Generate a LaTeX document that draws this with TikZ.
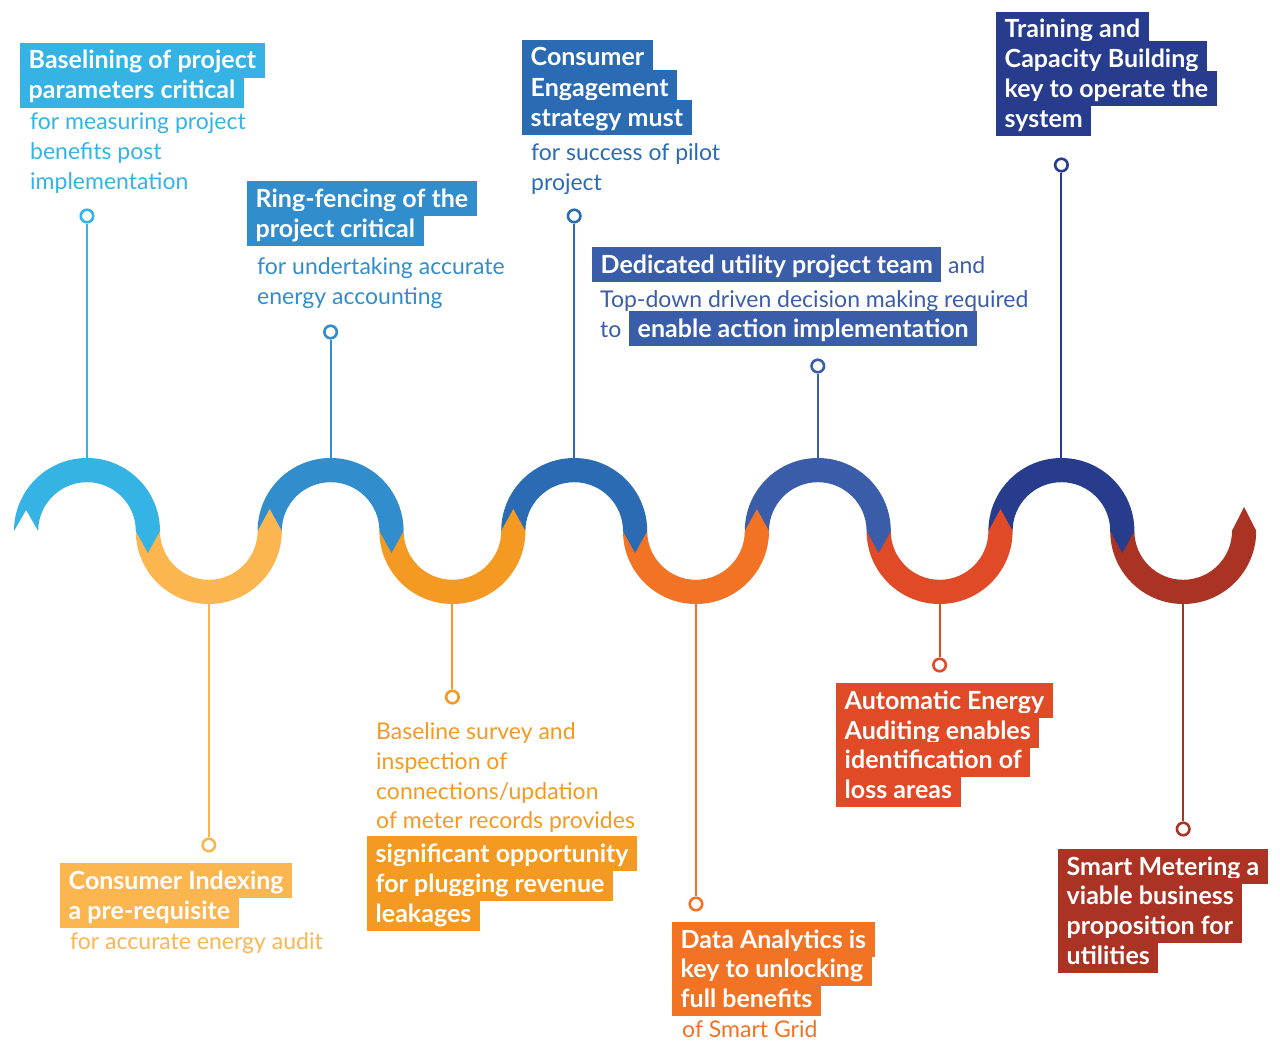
\documentclass[tikz,border=0pt]{standalone}
\usepackage{fontspec}
\setmainfont{Lato}

\definecolor{cA}{HTML}{35B3E4}
\definecolor{cB}{HTML}{318DCB}
\definecolor{cC}{HTML}{2A6BB4}
\definecolor{cD}{HTML}{3A5DAA}
\definecolor{cE}{HTML}{273C8C}
\definecolor{cF}{HTML}{FBB650}
\definecolor{cG}{HTML}{F49A22}
\definecolor{cH}{HTML}{F37325}
\definecolor{cI}{HTML}{E04A26}
\definecolor{cJ}{HTML}{AA3324}

% band segments of the wave: outer radius 73, inner radius 48.8, axis at y=-531
\newcommand\waveup[2]{%
  \fill[#2] (#1-73,-531) arc[start angle=180,end angle=0,radius=73]
    -- (#1+60.9,-553) -- (#1+48.8,-531)
    arc[start angle=0,end angle=180,radius=48.8] -- cycle;}
\newcommand\wavedown[2]{%
  \fill[#2] (#1-73,-531) arc[start angle=180,end angle=360,radius=73]
    -- (#1+60.9,-509) -- (#1+48.8,-531)
    arc[start angle=360,end angle=180,radius=48.8] -- cycle;}

\begin{document}
\begin{tikzpicture}[x=1pt,y=1pt,
  hl/.style={fill=#1, text=white, font=\fontsize{25}{30}\selectfont\bfseries,
    anchor=base west, inner xsep=8.5pt, inner ysep=0pt, minimum height=35pt,
    text height=17pt, text depth=0pt},
  nt/.style={text=#1, font=\fontsize{23}{28}\selectfont,
    anchor=base west, inner sep=0pt},
  pin/.style={circle, draw=#1, line width=2.6pt, fill=white, inner sep=0pt,
    minimum size=12.5pt},
  stem/.style={draw=#1, line width=2pt}]
\useasboundingbox (0,0) rectangle (1280,-1041);

% wave, drawn right to left so each pointed end overlaps the next band
\wavedown{1183.2}{cJ}
\fill[cJ] (1183.2+48.8,-531) -- (1183.2+60.9,-507) -- (1183.2+73,-531) -- cycle;
\waveup{1061.4}{cE}
\wavedown{939.6}{cI}
\waveup{817.8}{cD}
\wavedown{696}{cH}
\waveup{574.2}{cC}
\wavedown{452.4}{cG}
\waveup{330.6}{cB}
\wavedown{208.8}{cF}
% first band with notched tail
\fill[cA] (87-73,-531) arc[start angle=180,end angle=0,radius=73]
  -- (87+60.9,-553) -- (87+48.8,-531)
  arc[start angle=0,end angle=180,radius=48.8]
  -- (87-60.9,-510) -- cycle;

% stem anchor points on the wave
\coordinate (tA) at (87,-458);
\coordinate (tB) at (330.6,-458);
\coordinate (tC) at (574.2,-458);
\coordinate (tD) at (817.8,-458);
\coordinate (tE) at (1061.4,-458);
\coordinate (tF) at (208.8,-604);
\coordinate (tG) at (452.4,-604);
\coordinate (tH) at (696,-604);
\coordinate (tI) at (939.6,-604);
\coordinate (tJ) at (1183.2,-604);

% pins
\node[pin=cA] (pA) at (87,-216) {};
\node[pin=cB] (pB) at (330.6,-332) {};
\node[pin=cC] (pC) at (574.2,-216) {};
\node[pin=cD] (pD) at (817.8,-366) {};
\node[pin=cE] (pE) at (1061.4,-165) {};
\node[pin=cF] (pF) at (208.8,-845) {};
\node[pin=cG] (pG) at (452.4,-697) {};
\node[pin=cH] (pH) at (696,-904) {};
\node[pin=cI] (pI) at (939.6,-665) {};
\node[pin=cJ] (pJ) at (1183.2,-829) {};

\draw[stem=cA] (pA) -- (tA);
\draw[stem=cB] (pB) -- (tB);
\draw[stem=cC] (pC) -- (tC);
\draw[stem=cD] (pD) -- (tD);
\draw[stem=cE] (pE) -- (tE);
\draw[stem=cF] (pF) -- (tF);
\draw[stem=cG] (pG) -- (tG);
\draw[stem=cH] (pH) -- (tH);
\draw[stem=cI] (pI) -- (tI);
\draw[stem=cJ] (pJ) -- (tJ);

% 1
\node[hl=cA] (a1) at (20,-69) {Baselining of project};
\node[hl=cA] (a2) at (20,-99) {parameters critical};
\node[nt=cA] (a3) at (30,-129) {for measuring project};
\node[nt=cA] (a4) at (30,-159) {benefits post};
\node[nt=cA] (a5) at (30,-189) {implementation};

% 2
\node[hl=cB] (b1) at (247,-207) {Ring-fencing of the};
\node[hl=cB] (b2) at (247,-237) {project critical};
\node[nt=cB] (b3) at (257,-274) {for undertaking accurate};
\node[nt=cB] (b4) at (257,-304) {energy accounting};

% 3
\node[hl=cC] (c1) at (522,-66) {Consumer};
\node[hl=cC] (c2) at (522,-96) {Engagement};
\node[hl=cC] (c3) at (522,-126) {strategy must};
\node[nt=cC] (c4) at (531,-160) {for success of pilot};
\node[nt=cC] (c5) at (531,-190) {project};

% 4
\node[hl=cD] (d1) at (592,-273) {Dedicated utility project team};
\node[nt=cD] (d2) at (948,-273) {and};
\node[nt=cD] (d3) at (600,-307) {Top-down driven decision making required};
\node[nt=cD] (d4) at (600,-337) {to};
\node[hl=cD] (d5) at (629,-337) {enable action implementation};

% 5
\node[hl=cE] (e1) at (996,-38) {Training and};
\node[hl=cE] (e2) at (996,-67) {Capacity Building};
\node[hl=cE] (e3) at (996,-97) {key to operate the};
\node[hl=cE] (e4) at (996,-127) {system};

% 6
\node[hl=cF] (f1) at (60,-889) {Consumer Indexing};
\node[hl=cF] (f2) at (60,-919) {a pre-requisite};
\node[nt=cF] (f3) at (70,-949) {for accurate energy audit};

% 7
\node[nt=cG] (g1) at (376,-739) {Baseline survey and};
\node[nt=cG] (g2) at (376,-769) {inspection of};
\node[nt=cG] (g3) at (376,-799) {connections/updation};
\node[nt=cG] (g4) at (376,-828) {of meter records provides};
\node[hl=cG] (g5) at (367,-862) {significant opportunity};
\node[hl=cG] (g6) at (367,-892) {for plugging revenue};
\node[hl=cG] (g7) at (367,-922) {leakages};

% 8
\node[hl=cH] (h1) at (672,-948) {Data Analytics is};
\node[hl=cH] (h2) at (672,-977) {key to unlocking};
\node[hl=cH] (h3) at (672,-1007) {full benefits};
\node[nt=cH] (h4) at (682,-1037) {of Smart Grid};

% 9
\node[hl=cI] (i1) at (836,-709) {Automatic Energy};
\node[hl=cI] (i2) at (836,-739) {Auditing enables};
\node[hl=cI] (i3) at (836,-768) {identification of};
\node[hl=cI] (i4) at (836,-798) {loss areas};

% 10
\node[hl=cJ] (j1) at (1058,-875) {Smart Metering a};
\node[hl=cJ] (j2) at (1058,-904) {viable business};
\node[hl=cJ] (j3) at (1058,-934) {proposition for};
\node[hl=cJ] (j4) at (1058,-964) {utilities};
\end{tikzpicture}
\end{document}
